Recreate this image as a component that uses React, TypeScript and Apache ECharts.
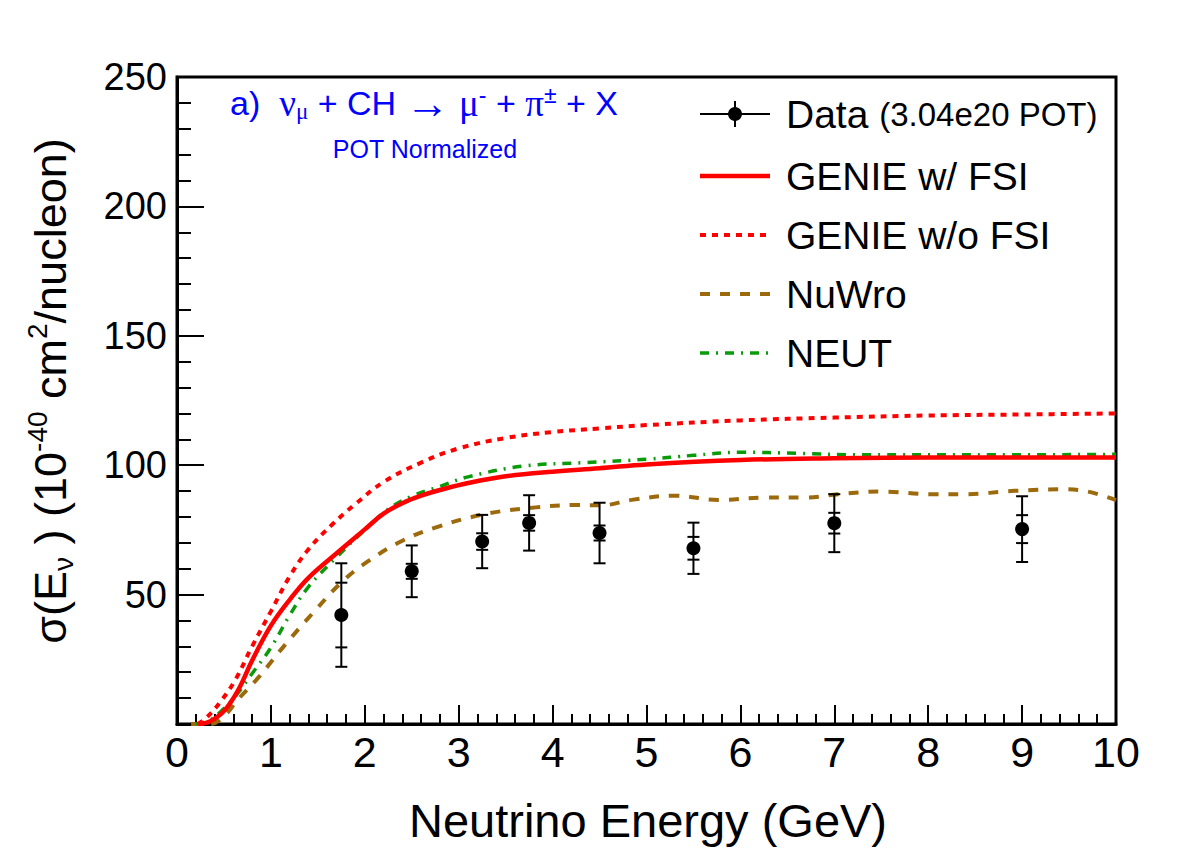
import React, { useEffect, useRef } from "react";
import * as echarts from "echarts";

const FONT = "'Liberation Sans', Arial, Helvetica, sans-serif";
const SERIF = "'Liberation Serif', 'DejaVu Serif', serif";

// Data points
const dataE = [1.75, 2.5, 3.25, 3.75, 4.5, 5.5, 7.0, 9.0];
const dataSigma = [42.1, 59.0, 70.5, 77.7, 73.8, 67.9, 77.6, 75.3];
const dataStatErr = [12.5, 2.9, 3.2, 3.0, 2.9, 4.4, 4.0, 5.4];
const dataTotErr = [20.0, 10.0, 10.3, 10.7, 11.7, 9.9, 11.2, 12.7];

// GENIE w/ FSI
const genieFsiE = [0.23, 0.35, 0.5, 0.65, 0.8, 1.0, 1.2, 1.4, 1.7, 2.0, 2.2, 2.4, 2.6, 2.8, 3.1, 3.5, 4.0, 4.5, 5.0, 6.0, 7.0, 8.0, 9.0, 10.0];
const genieFsiSigma = [0, 1, 5, 13, 24.5, 38, 48, 56.5, 66, 75.2, 81.3, 85.3, 88.2, 90.4, 93.1, 95.7, 97.5, 98.8, 100.3, 102, 102.7, 103, 103, 103];

// GENIE w/o FSI
const genieNoFsiE = [0.22, 0.3, 0.45, 0.62, 0.8, 1.0, 1.2, 1.4, 1.65, 1.9, 2.2, 2.6, 3.0, 3.5, 4.0, 4.5, 5.0, 6.0, 7.0, 8.0, 9.0, 10.0];
const genieNoFsiSigma = [0, 2, 8, 17, 30, 43.5, 57, 67.5, 77, 85, 93.5, 101, 106.5, 110.5, 112.8, 114.2, 115.5, 117.3, 118.4, 119.2, 119.6, 120];

// NuWro
const nuwroE = [0.15, 0.35, 0.5, 0.65, 0.87, 1.16, 1.44, 1.76, 2.04, 2.4, 2.75, 3.28, 3.82, 4.25, 4.52, 4.84, 5.3, 5.77, 6.26, 6.69, 7.04, 7.5, 8.04, 8.39, 8.92, 9.45, 9.7, 10.0];
const nuwroSigma = [0, 0, 3, 9.5, 18.1, 31, 42.6, 55, 63, 70.8, 75.9, 81.1, 83.7, 84.6, 84.5, 86.6, 88.2, 86.6, 87.5, 87.5, 88.8, 89.8, 88.8, 88.8, 90.1, 90.7, 89.8, 86.5];

// NEUT
const neutE = [0.2, 0.35, 0.5, 0.65, 0.8, 1.0, 1.2, 1.4, 1.7, 2.0, 2.25, 2.5, 2.8, 3.1, 3.7, 4.35, 5.0, 5.5, 6.0, 6.6, 7.3, 8.7, 10.0];
const neutSigma = [0, 1.5, 6, 12, 19.5, 29.5, 42, 53, 64.5, 75, 83, 88, 91.8, 95.5, 99.7, 101, 102.3, 103.8, 105, 104.6, 104, 104, 104.2];

const RED = "#ff0000";
const BROWN = "#9c6a0c";
const GREEN = "#0a9a0a";

const styles = {
  fsi: { color: RED, width: 4.5, type: "solid" as any },
  noFsi: { color: RED, width: 4, type: [6, 6] as any },
  nuwro: { color: BROWN, width: 4, type: [10, 10] as any },
  neut: { color: GREEN, width: 3.5, type: [9, 7, 2, 7] as any },
};

const zip = (xs: number[], ys: number[]) => xs.map((x, i) => [x, ys[i]]);

export default function App() {
  const ref = useRef<HTMLDivElement>(null);
  useEffect(() => {
    if (!ref.current) return;
    const chart = echarts.init(ref.current, undefined, { renderer: "svg" });

    const lineSeries = (name: string, xs: number[], ys: number[], st: any) => ({
      type: "line",
      name,
      data: zip(xs, ys),
      showSymbol: false,
      smooth: 0.4,
      lineStyle: { color: st.color, width: st.width, type: st.type },
      z: 3,
    });

    const legendX1 = 700;
    const legendX2 = 770;
    const legendTextX = 786;
    const legendRows = [114, 176, 235, 294, 353];
    const legendLine = (y: number, st: any) => ({
      type: "line",
      shape: { x1: legendX1, y1: y, x2: legendX2, y2: y },
      style: { stroke: st.color, lineWidth: st.width, lineDash: Array.isArray(st.type) ? st.type : null },
    });
    const legendText = (y: number, text: string) => ({
      type: "text",
      x: legendTextX,
      y,
      style: { text, fontSize: 39, fontFamily: FONT, fill: "#000", align: "left", verticalAlign: "middle" },
    });

    const option: any = {
      animation: false,
      backgroundColor: "#fff",
      grid: {
        left: 177,
        right: 66,
        top: 77,
        bottom: 129,
        show: true,
        borderColor: "#000",
        borderWidth: 3,
        backgroundColor: "transparent",
      },
      xAxis: {
        type: "value",
        min: 0,
        max: 10,
        interval: 1,
        axisLine: { show: true, lineStyle: { color: "#000", width: 3 } },
        axisTick: { show: true, inside: true, length: 19, lineStyle: { color: "#000", width: 2 } },
        minorTick: { show: true, splitNumber: 5, length: 10, lineStyle: { color: "#000", width: 2 } },
        splitLine: { show: false },
        axisLabel: { fontSize: 43, fontFamily: FONT, color: "#000", margin: 6 },
      },
      yAxis: {
        type: "value",
        min: 0,
        max: 250,
        interval: 50,
        axisLine: { show: true, lineStyle: { color: "#000", width: 3 } },
        axisTick: { show: true, inside: true, length: 27, lineStyle: { color: "#000", width: 2 } },
        minorTick: { show: true, splitNumber: 5, length: 14, lineStyle: { color: "#000", width: 2 } },
        splitLine: { show: false },
        axisLabel: {
          fontSize: 38,
          fontFamily: FONT,
          color: "#000",
          margin: 10,
          formatter: (v: number) => (v === 0 ? "" : String(v)),
        },
      },
      series: [
        lineSeries("NuWro", nuwroE, nuwroSigma, styles.nuwro),
        lineSeries("NEUT", neutE, neutSigma, styles.neut),
        lineSeries("GENIE w/o FSI", genieNoFsiE, genieNoFsiSigma, styles.noFsi),
        lineSeries("GENIE w/ FSI", genieFsiE, genieFsiSigma, styles.fsi),
        {
          type: "custom",
          name: "Data errors",
          data: dataE.map((e, i) => [e, dataSigma[i], dataStatErr[i], dataTotErr[i]]),
          encode: { x: 0, y: 1 },
          z: 5,
          renderItem: (_params: any, api: any) => {
            const x = api.value(0);
            const y = api.value(1);
            const s = api.value(2);
            const t = api.value(3);
            const pTop = api.coord([x, y + t]);
            const pBot = api.coord([x, y - t]);
            const sTop = api.coord([x, y + s]);
            const sBot = api.coord([x, y - s]);
            const cap = 6;
            const st = { stroke: "#000", lineWidth: 2 };
            const mk = (p: number[]) => ({
              type: "line",
              shape: { x1: p[0] - cap, y1: p[1], x2: p[0] + cap, y2: p[1] },
              style: st,
            });
            return {
              type: "group",
              children: [
                { type: "line", shape: { x1: pTop[0], y1: pTop[1], x2: pBot[0], y2: pBot[1] }, style: st },
                mk(pTop),
                mk(pBot),
                mk(sTop),
                mk(sBot),
              ],
            };
          },
        },
        {
          type: "scatter",
          name: "Data",
          data: zip(dataE, dataSigma),
          symbol: "circle",
          symbolSize: 14,
          itemStyle: { color: "#000", opacity: 1 },
          z: 6,
        },
      ],
      graphic: [
        // header
        {
          type: "text",
          x: 424,
          y: 103,
          style: {
            text: "{t|a)  }{g|ν}{sub|μ}{t| + CH }{a|→}{t| }{g|μ}{sup|-}{t| + }{g|π}{sup|±}{t| + X}",
            align: "center",
            verticalAlign: "middle",
            rich: {
              t: { fontSize: 34, fontFamily: FONT, fill: "#0000ff", lineHeight: 40 },
              g: { fontSize: 37, fontFamily: SERIF, fill: "#0000ff", lineHeight: 40 },
              a: { fontSize: 44, fontFamily: SERIF, fill: "#0000ff", lineHeight: 40 },
              sub: { fontSize: 23, fontFamily: SERIF, fill: "#0000ff", lineHeight: 16, verticalAlign: "bottom" },
              sup: { fontSize: 23, fontFamily: FONT, fill: "#0000ff", lineHeight: 16, verticalAlign: "top" },
            },
          },
        },
        {
          type: "text",
          x: 425,
          y: 149,
          style: {
            text: "POT Normalized",
            fontSize: 25,
            fontFamily: FONT,
            fill: "#0000ff",
            align: "center",
            verticalAlign: "middle",
          },
        },
        // legend: Data
        {
          type: "line",
          shape: { x1: legendX1, y1: legendRows[0], x2: legendX2, y2: legendRows[0] },
          style: { stroke: "#000", lineWidth: 2 },
        },
        {
          type: "line",
          shape: { x1: 735, y1: legendRows[0] - 13, x2: 735, y2: legendRows[0] + 13 },
          style: { stroke: "#000", lineWidth: 2 },
        },
        { type: "circle", shape: { cx: 735, cy: legendRows[0], r: 7 }, style: { fill: "#000" } },
        {
          type: "text",
          x: legendTextX,
          y: legendRows[0],
          style: {
            text: "{a|Data }{b|(3.04e20 POT)}",
            align: "left",
            verticalAlign: "middle",
            rich: {
              a: { fontSize: 39, fontFamily: FONT, fill: "#000", lineHeight: 44 },
              b: { fontSize: 33, fontFamily: FONT, fill: "#000", lineHeight: 44 },
            },
          },
        },
        legendLine(legendRows[1], styles.fsi),
        legendText(legendRows[1], "GENIE w/ FSI"),
        legendLine(legendRows[2], styles.noFsi),
        legendText(legendRows[2], "GENIE w/o FSI"),
        legendLine(legendRows[3], styles.nuwro),
        legendText(legendRows[3], "NuWro"),
        legendLine(legendRows[4], styles.neut),
        legendText(legendRows[4], "NEUT"),
        // axis titles
        {
          type: "text",
          x: 648,
          y: 820,
          style: {
            text: "Neutrino Energy (GeV)",
            fontSize: 47,
            fontFamily: FONT,
            fill: "#000",
            align: "center",
            verticalAlign: "middle",
          },
        },
        {
          type: "text",
          x: 50,
          y: 391,
          rotation: Math.PI / 2,
          style: {
            text: "{t|σ(E}{sub|ν}{t| ) (10}{sup|-40}{t| cm}{sup|2}{t|/nucleon)}",
            align: "center",
            verticalAlign: "middle",
            rich: {
              t: { fontSize: 45, fontFamily: FONT, fill: "#000", lineHeight: 54 },
              sub: { fontSize: 28, fontFamily: FONT, fill: "#000", lineHeight: 22, verticalAlign: "bottom" },
              sup: { fontSize: 28, fontFamily: FONT, fill: "#000", lineHeight: 22, verticalAlign: "top" },
            },
          },
        },
      ],
    };

    chart.setOption(option);
    return () => chart.dispose();
  }, []);

  return (
    <div
      ref={ref}
      style={{ position: "fixed", left: 0, top: 0, width: 1182, height: 853, background: "#fff" }}
    />
  );
}
